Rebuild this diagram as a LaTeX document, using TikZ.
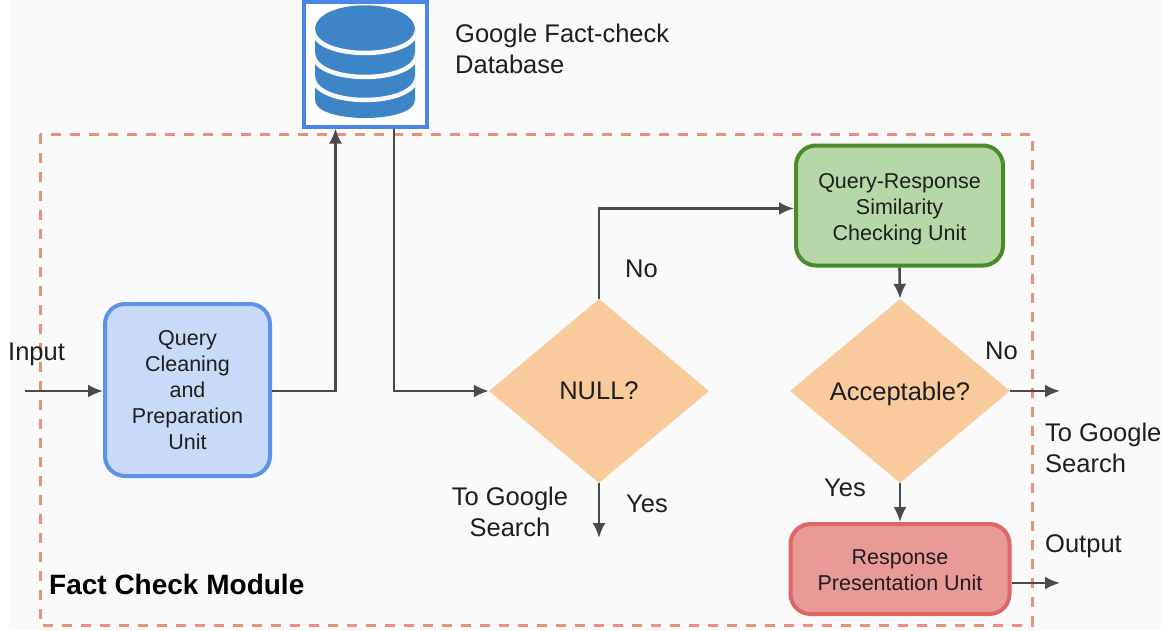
\documentclass[tikz,border=0pt]{standalone}
\usepackage{fontspec}
\setmainfont{Liberation Sans}
\usetikzlibrary{shapes.geometric,arrows.meta,calc}
\definecolor{bgc}{HTML}{FAFAFA}
\definecolor{linec}{HTML}{4A4A4A}
\definecolor{txt}{HTML}{1E1E1E}
\definecolor{dashc}{HTML}{E8907F}
\definecolor{diam}{HTML}{F9CB9C}
\definecolor{dbblue}{HTML}{3D85C6}
\definecolor{frameblue}{HTML}{4A86E8}
\definecolor{qfill}{HTML}{C9DAF8}
\definecolor{sfill}{HTML}{B6D7A8}
\definecolor{sline}{HTML}{4A8B2C}
\definecolor{rfill}{HTML}{EA9999}
\definecolor{rline}{HTML}{E06666}
\newcommand{\fsa}{\fontsize{21.5}{26}\selectfont}
\newcommand{\fsb}{\fontsize{25.5}{31}\selectfont}
\newcommand{\fsc}{\fontsize{28}{34}\selectfont\bfseries}
\newcommand{\dn}[1]{\rule{0pt}{#1pt}}
\tikzset{
  x=1pt,y=-1pt,
  unitbox/.style={draw,line width=4pt,rounded corners=20pt,align=center,inner sep=0pt,text=txt,font=\fsa},
  decision/.style={diamond,fill=diam,aspect=1.2,inner sep=0pt,text=txt,font=\fsb,text depth=0pt},
  lbl/.style={text=txt,font=\fsb,align=left,inner sep=0pt},
  conn/.style={draw=linec,line width=2.6pt,-{Latex[length=15pt,width=13pt]}},
}
\begin{document}
\begin{tikzpicture}
\useasboundingbox (0,0) rectangle (1169,630);
\fill[white] (0,0) rectangle (1169,630);
\fill[bgc] (9,0) rectangle (1161,630);
\draw[dashc,line width=3pt,dash pattern=on 10pt off 9pt] (40,134) rectangle (1032,625);

% database icon
\node[draw=frameblue,fill=white,line width=4pt,minimum width=123pt,minimum height=125pt,inner sep=0pt] (db) at (365,64) {};
\fill[dbblue] (315,30) .. controls (315,-3) and (415,-3) .. (415,30) -- (415,100) .. controls (415,124) and (315,124) .. (315,100) -- cycle;
\begin{scope}
\clip (315,0) rectangle (415,126);
\draw[bgc,line width=4.5pt] (313,29) .. controls (313,61) and (417,61) .. (417,29);
\draw[bgc,line width=4.5pt] (313,53) .. controls (313,85) and (417,85) .. (417,53);
\draw[bgc,line width=4.5pt] (313,76) .. controls (313,108) and (417,108) .. (417,76);
\end{scope}

\node[lbl,anchor=north west] (dbl) at (455,20.5) {\strut Google Fact-check\\\strut Database};

\node[unitbox,draw=frameblue!90,fill=qfill,minimum width=165pt,minimum height=172pt] (q) at (187.5,390) {\dn{16}Query\\Cleaning\\and\\Preparation\\Unit};
\node[unitbox,draw=sline,fill=sfill,minimum width=207pt,minimum height=120pt] (s) at (899.5,205.5) {\dn{22}Query-Response\\Similarity\\Checking Unit};
\node[unitbox,draw=rline,fill=rfill,minimum width=219pt,minimum height=90pt] (r) at (900,569) {\dn{18}Response\\Presentation Unit};
\node[decision,minimum width=220pt,minimum height=184pt] (n) at (599,391) {NULL?};
\node[decision,minimum width=220pt,minimum height=184pt] (a) at (900,391) {Acceptable?};

\coordinate (inp) at (25,391);
\coordinate (dbin) at ($(db.south west)+(34,0)$);
\coordinate (dbout) at ($(db.south west)+(92.5,0)$);
\coordinate (sin) at ($(s.west)+(0,3)$);
\coordinate (qout) at (q.east |- n.west);
\coordinate (qin) at (q.west |- n.west);
\coordinate (nyes) at (599,538);
\coordinate (ano) at (1060,391);
\coordinate (rout) at (1060,583);

\draw[conn] (inp) -- (qin);
\draw[conn] (qout) -| (dbin);
\draw[conn] (dbout) |- (n.west);
\draw[conn] (n.north) |- (sin);
\draw[conn] (s.south) -- (a.north);
\draw[conn] (n.south) -- (nyes);
\draw[conn] (a.east) -- (ano);
\draw[conn] (a.south) -- (r.north);
\draw[conn] (r.east |- rout) -- (rout);

\node[lbl,anchor=west] (li) at (8,354) {Input};
\node[lbl,anchor=west] (lno1) at (625,269) {No};
\node[lbl,anchor=west] (lyes1) at (626,504) {Yes};
\node[lbl,anchor=north,align=center] (lg1) at (510,484) {\strut To Google\\\strut Search};
\node[lbl,anchor=west] (lno2) at (985,351) {No};
\node[lbl,anchor=west] (lyes2) at (824,488) {Yes};
\node[lbl,anchor=north west] (lg2) at (1045,419.5) {\strut To Google\\\strut Search};
\node[lbl,anchor=west] (lo) at (1045,546) {Output};
\node[lbl,anchor=west,font=\fsc,text=black] (lf) at (49,584) {Fact Check Module};
\end{tikzpicture}
\end{document}
